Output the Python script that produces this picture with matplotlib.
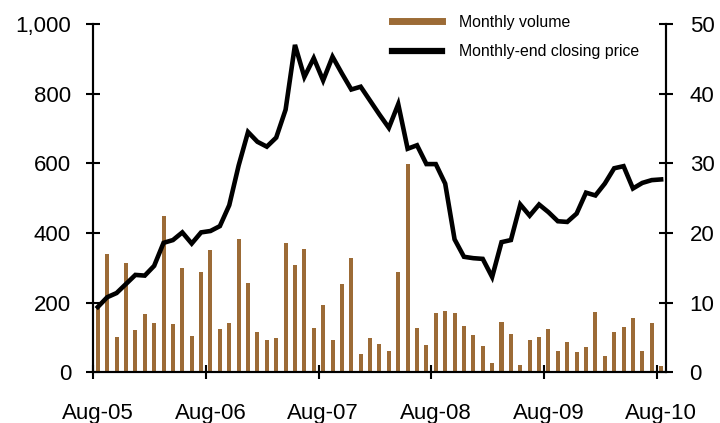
import matplotlib
matplotlib.use("Agg")
import matplotlib.pyplot as plt
from matplotlib.lines import Line2D
import numpy as np

plt.rcParams['font.family'] = ['Liberation Sans', 'DejaVu Sans']

# Monthly data Aug-05 .. Aug-10 (61 months)
volume = [192, 340, 101, 315, 122, 168, 142, 448, 139, 301, 105, 287,
          352, 125, 141, 384, 257, 115, 93, 98, 371, 309, 355, 129,
          194, 93, 254, 329, 54, 98, 82, 63, 289, 599, 128, 80,
          171, 176, 171, 133, 107, 77, 27, 146, 110, 21, 92, 103,
          126, 62, 88, 58, 74, 175, 47, 117, 131, 157, 62, 141,
          19]
price = [9.4, 10.8, 11.4, 12.7, 14.0, 13.9, 15.3, 18.6, 19.0, 20.1, 18.5, 20.1,
         20.3, 21.0, 24.0, 29.7, 34.5, 33.1, 32.4, 33.7, 37.7, 47.0, 42.4, 45.1,
         41.9, 45.3, 42.9, 40.6, 41.0, 39.0, 37.0, 35.1, 38.5, 32.1, 32.6, 29.9,
         29.9, 27.1, 19.1, 16.6, 16.4, 16.3, 13.7, 18.7, 19.0, 24.1, 22.5, 24.1,
         23.0, 21.7, 21.6, 22.8, 25.8, 25.4, 27.1, 29.3, 29.6, 26.4, 27.2, 27.6,
         27.7]
year_labels = ["Aug-05", "Aug-06", "Aug-07", "Aug-08", "Aug-09", "Aug-10"]
vol_ticks = [0, 200, 400, 600, 800, 1000]
price_ticks = [0, 10, 20, 30, 40, 50]

bar_color = "#9C6B36"

fig = plt.figure(figsize=(7.2, 4.23), dpi=100)
ax = fig.add_axes([0.1296, 0.1194, 0.925 - 0.1296, 0.9433 - 0.1194])
ax2 = ax.twinx()

x = np.arange(len(volume)) + 0.48
ax.bar(x, volume, width=0.43, color=bar_color, zorder=2)
ax2.plot(x, price, color="black", lw=3.3, solid_joinstyle="miter", zorder=3)

ax.set_xlim(0, 61)
ax.set_ylim(0, 1000)
ax2.set_ylim(0, 50)

ax.set_yticks(vol_ticks)
ax.set_yticklabels([f"{v:,}" for v in vol_ticks])
ax2.set_yticks(price_ticks)

major = [12 * k for k in range(len(year_labels))]
ax.set_xticks(major)
ax.set_xticklabels([])
ax.set_xticks([m + 0.5 for m in major], minor=True)
ax.set_xticklabels(year_labels, minor=True)

for a in (ax, ax2):
    a.spines['top'].set_visible(False)
    for s in ('left', 'right', 'bottom'):
        a.spines[s].set_linewidth(1.5)
        a.spines[s].set_color('black')

ax.tick_params(axis='y', direction='inout', length=10, width=1.5, labelsize=16, pad=11)
ax2.tick_params(axis='y', direction='inout', length=10, width=1.5, labelsize=16, pad=12)
ax.tick_params(axis='x', which='major', direction='inout', length=10, width=1.5)
ax.tick_params(axis='x', which='minor', length=0, labelsize=16, pad=22)

handles = [Line2D([0], [0], color=bar_color, lw=5),
           Line2D([0], [0], color='black', lw=4.5)]
labels = ["Monthly volume", "Monthly-end closing price"]
fig.legend(handles, labels, loc='upper left', bbox_to_anchor=(0.544, 1 - 15 / 423),
           frameon=False, fontsize=11.4, handlelength=3.2, handletextpad=1.07,
           labelspacing=0.9, borderpad=0, borderaxespad=0)

fig.savefig("out.png", dpi=100)
